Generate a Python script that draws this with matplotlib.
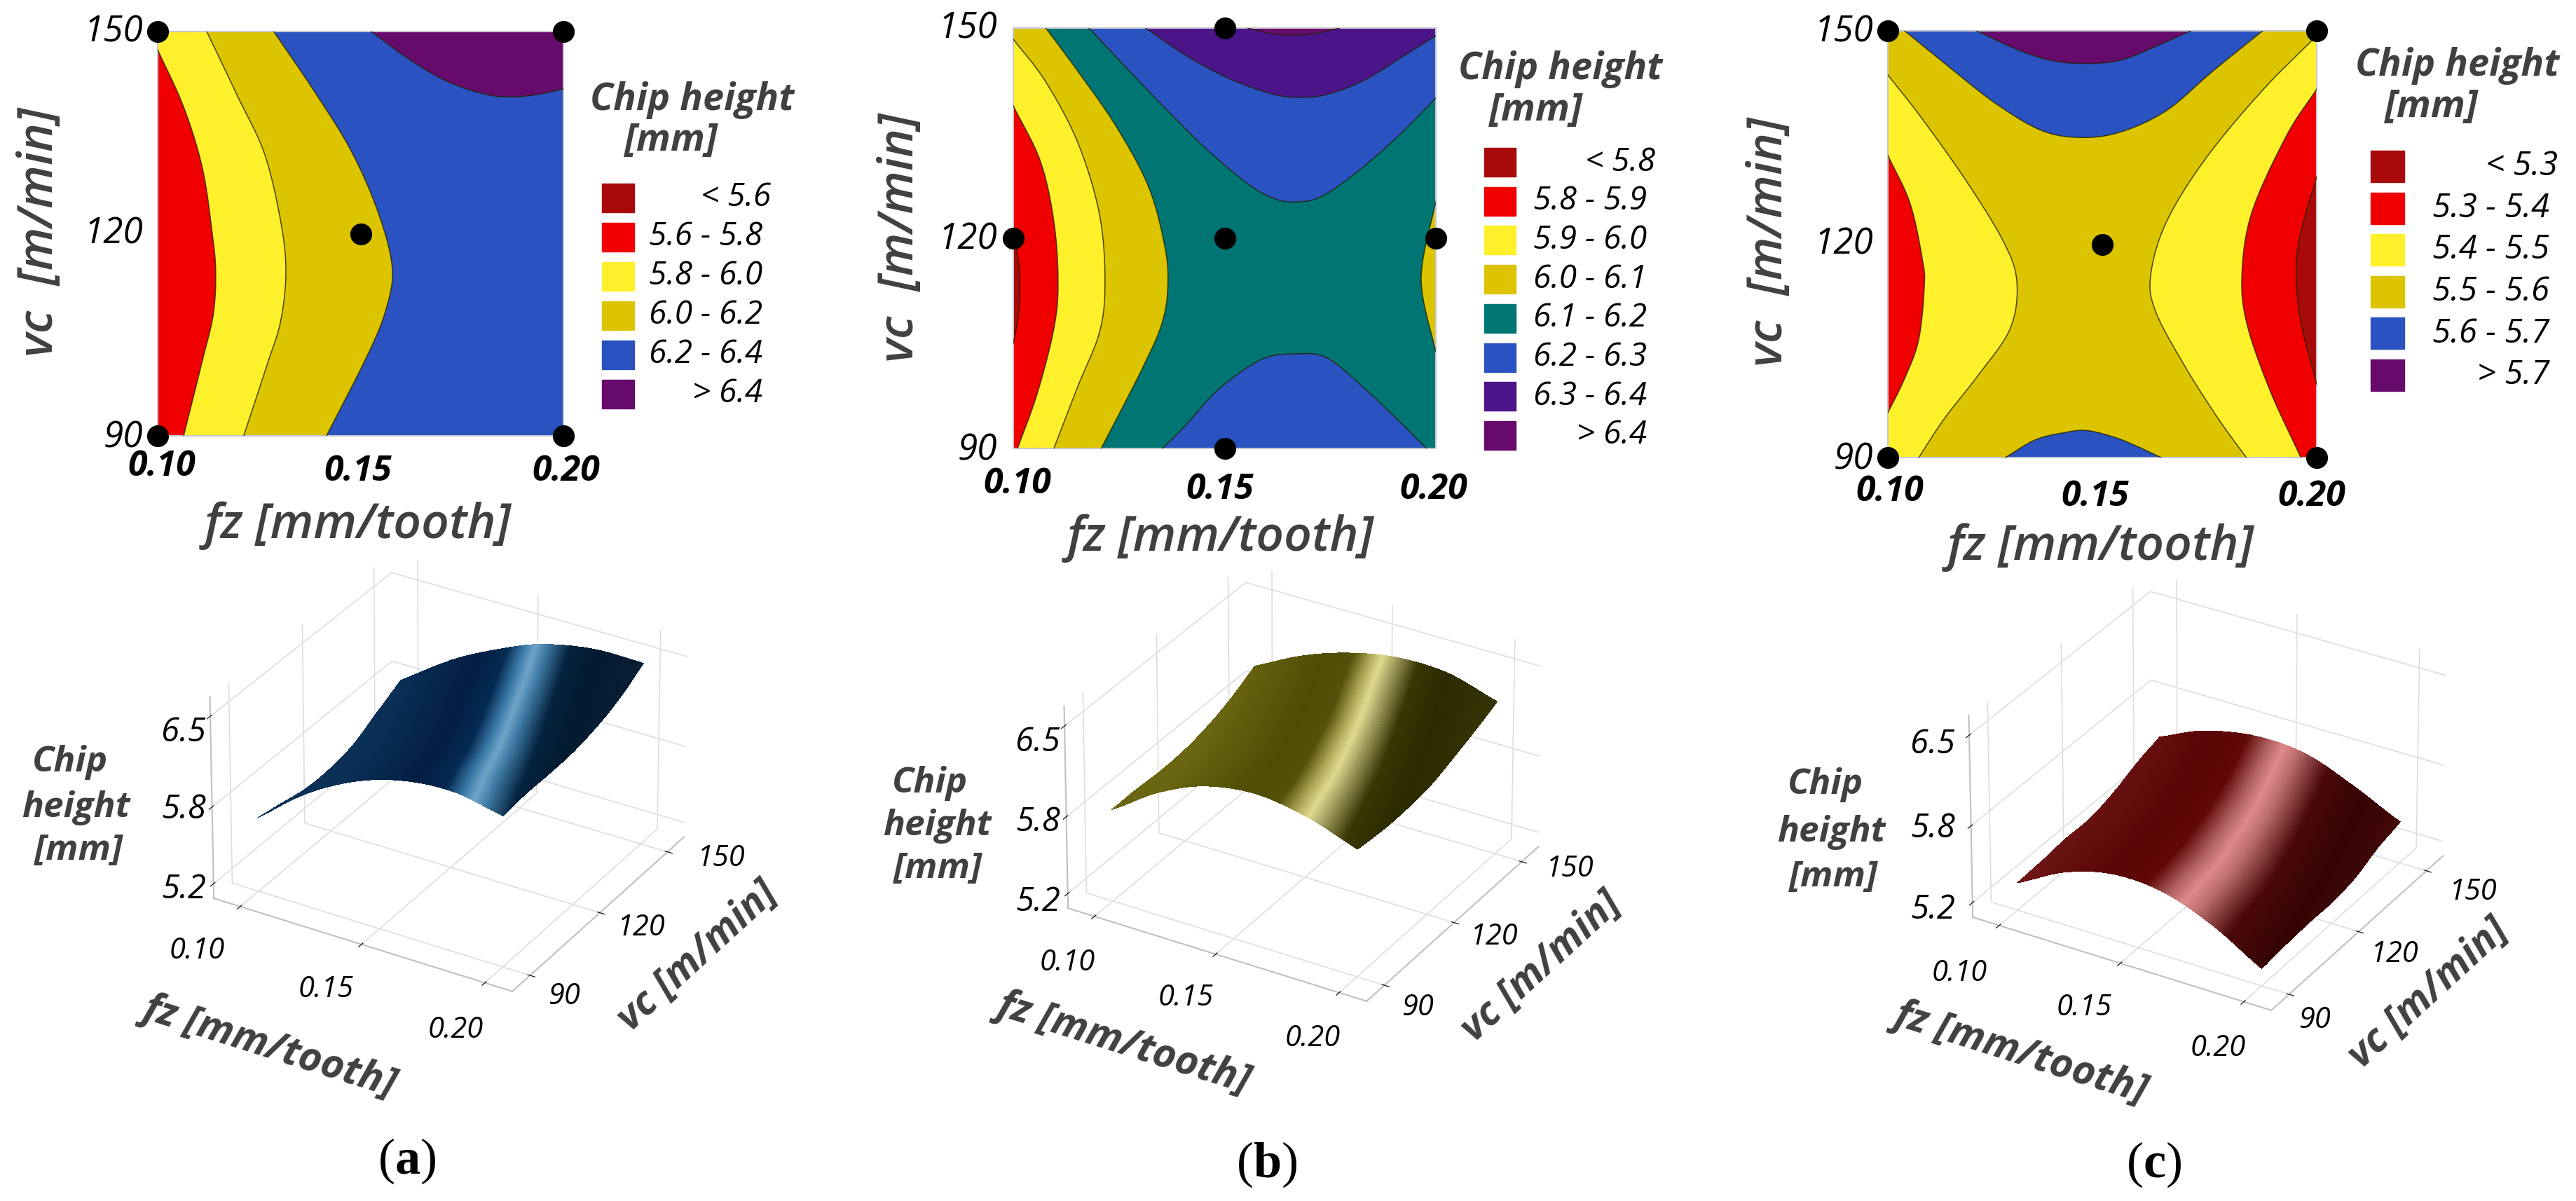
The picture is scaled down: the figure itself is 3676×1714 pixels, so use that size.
import numpy as np
import matplotlib
matplotlib.use('Agg')
import matplotlib.pyplot as plt
import matplotlib.tri as mtri
from matplotlib.colors import LinearSegmentedColormap
from matplotlib.patches import Rectangle

plt.rcParams['mathtext.fontset'] = 'custom'
plt.rcParams['mathtext.rm'] = 'Liberation Serif'
plt.rcParams['mathtext.bf'] = 'Liberation Serif:bold'

W, H = 3676, 1714
FZ_TICKS = [0.10, 0.15, 0.20]
VC_TICKS = [90, 120, 150]
Z_TICKS = [5.2, 5.8, 6.5]
FZ_LABELS = ['0.10', '0.15', '0.20']
VC_LABELS = ['90', '120', '150']
Z_LABELS = ['6.5', '5.8', '5.2']

# contour colours
DRED, RED, YEL, DYEL = '#a80a0a', '#f00000', '#fff02c', '#dcc400'
TEAL, BLUE, INDIGO, PURP = '#007573', '#2a52c0', '#4b1489', '#660b6b'

# (a) contour lines
a_fz_58 = [.1000, .1064, .1110, .1134, .1143, .1137, .1110, .1064]
a_vc_58 = [147.3, 138.8, 129.8, 120.3, 114.4, 108.0, 101.1, 90]
a_fz_60 = [.1121, .1197, .1263, .1303, .1316, .1303, .1270, .1212]
a_vc_60 = [150, 140.4, 131.9, 121.9, 114.4, 107.0, 100.6, 90]
a_fz_62 = [.1286, .1382, .1475, .1542, .1578, .1562, .1515, .1416]
a_vc_62 = [150, 141.5, 132.5, 123.4, 115, 108.6, 101.7, 90]
a_fz_64 = [.1526, .1622, .1714, .1807, .1874, .1940, .2000]
a_vc_64 = [150, 145.8, 142.6, 140.7, 140.3, 140.7, 141.5]
a_pts_fz = [.10, .20, .15, .10, .20]
a_pts_vc = [150, 150, 120, 90, 90]
a_legend = ['< 5.6', '5.6 - 5.8', '5.8 - 6.0', '6.0 - 6.2', '6.2 - 6.4', '> 6.4']
a_legend_col = [DRED, RED, YEL, DYEL, BLUE, PURP]

# (b) contour lines
b_fz_61 = [.1077, .1153, .1242, .1319, .1357, .1366, .1353, .1306, .1208]
b_vc_61 = [150, 143.8, 136.1, 127.5, 119.3, 113.7, 108.1, 101.5, 90]
b_fz_60 = [.1000, .1077, .1153, .1204, .1217, .1204, .1153, .1096]
b_vc_60 = [148.4, 142.3, 133.6, 123.4, 113.7, 106.6, 98.9, 90]
b_fz_59 = [.1000, .1064, .1096, .1106, .1096, .1057, .1010]
b_vc_59 = [138.9, 131, 122.4, 113.7, 107.1, 97.9, 90]
b_fz_58 = [.1000, .1013, .1015, .1010, .1000]
b_vc_58 = [121.3, 116.3, 111.7, 108.1, 105]
b_fz_60r = [.2000, .1969, .1969, .2000]
b_vc_60r = [125.2, 116.8, 111.7, 103.8]
b_fz_62t = [.1179, .1268, .1357, .1459, .1561, .1625, .1676, .1727, .1804, .1906, .2000]
b_vc_62t = [150, 144.3, 138.7, 132.6, 127.5, 125.5, 125.2, 125.9, 129, 134.3, 140]
b_fz_63 = [.1313, .1408, .1510, .1612, .1676, .1740, .1829, .1931, .2000]
b_vc_63 = [150, 146.1, 142.8, 140.6, 140.1, 140.5, 142.5, 146.3, 148.9]
b_fz_64 = [.1555, .1612, .1663, .1714, .1772]
b_vc_64 = [150, 149.2, 149, 149.2, 150]
b_fz_62b = [.1353, .1408, .1485, .1587, .1670, .1740, .1816, .1906, .1978]
b_vc_62b = [90, 93.3, 98.4, 102.7, 103.5, 103, 99.4, 94.3, 90]
b_pts_fz = [.15, .10, .15, .20, .15]
b_pts_vc = [150, 120, 120, 120, 90]
b_legend = ['< 5.8', '5.8 - 5.9', '5.9 - 6.0', '6.0 - 6.1', '6.1 - 6.2', '6.2 - 6.3', '6.3 - 6.4', '> 6.4']
b_legend_col = [DRED, RED, YEL, DYEL, TEAL, BLUE, INDIGO, PURP]

# (c) contour lines
c_fz_55l = [.1000, .1078, .1185, .1271, .1301, .1285, .1211, .1132, .1072]
c_vc_55l = [143.8, 137.8, 128.7, 120.2, 114.6, 108.1, 101.6, 95.5, 90]
c_fz_54l = [.1000, .1052, .1081, .1085, .1072, .1039, .1000]
c_vc_54l = [132.5, 125.7, 117.7, 114.1, 106.6, 101.1, 96.3]
c_fz_55r = [.2000, .1876, .1743, .1650, .1613, .1624, .1690, .1770, .1836]
c_vc_55r = [149.3, 141.8, 132.2, 123.2, 115.7, 110.6, 103.1, 95.5, 90]
c_fz_54r = [.2000, .1930, .1850, .1826, .1836, .1890, .1963]
c_vc_54r = [141.8, 135.3, 124.7, 116.2, 109.1, 99.6, 90]
c_fz_53 = [.2000, .1963, .1952, .1963, .2000]
c_vc_53 = [129.5, 121.7, 116.2, 109.1, 100.3]
c_fz_56t = [.1039, .1145, .1251, .1358, .1451, .1544, .1650, .1757, .1874]
c_vc_56t = [150, 144.8, 139.8, 136, 135, 135.8, 138.8, 144.3, 150]
c_fz_57 = [.1207, .1305, .1384, .1464, .1544, .1624, .1706]
c_vc_57 = [150, 147.3, 145.8, 145.4, 145.9, 147.8, 150]
c_fz_56b = [.1274, .1344, .1411, .1464, .1531, .1584, .1637]
c_vc_56b = [90, 92.5, 93.5, 93.8, 92.8, 91.5, 90]
c_pts_fz = [.10, .20, .15, .10, .20]
c_pts_vc = [150, 150, 120, 90, 90]
c_legend = ['< 5.3', '5.3 - 5.4', '5.4 - 5.5', '5.5 - 5.6', '5.6 - 5.7', '> 5.7']
c_legend_col = [DRED, RED, YEL, DYEL, BLUE, PURP]

# chip height on a grid, for the surfaces (rows vc, columns fz)
grid_fz = [.10, .12, .14, .16, .18, .20]
grid_vc = [90, 100, 110, 120, 130, 140, 150]
a_z = [[5.66, 5.96, 6.17, 6.29, 6.32, 6.25],
       [5.62, 5.92, 6.12, 6.26, 6.31, 6.27],
       [5.58, 5.87, 6.08, 6.22, 6.28, 6.27],
       [5.58, 5.88, 6.09, 6.23, 6.30, 6.28],
       [5.62, 5.93, 6.15, 6.28, 6.34, 6.32],
       [5.72, 6.01, 6.22, 6.34, 6.40, 6.39],
       [5.82, 6.08, 6.28, 6.43, 6.50, 6.50]]
b_z = [[5.80, 6.05, 6.21, 6.26, 6.20, 6.07],
       [5.80, 6.02, 6.15, 6.20, 6.17, 6.05],
       [5.79, 5.99, 6.12, 6.17, 6.14, 6.05],
       [5.80, 5.99, 6.12, 6.18, 6.15, 6.07],
       [5.84, 6.03, 6.14, 6.21, 6.20, 6.13],
       [5.91, 6.10, 6.24, 6.30, 6.29, 6.20],
       [6.01, 6.20, 6.33, 6.40, 6.39, 6.28]]
c_z = [[5.30, 5.50, 5.60, 5.58, 5.44, 5.22],
       [5.31, 5.48, 5.57, 5.55, 5.42, 5.24],
       [5.33, 5.47, 5.55, 5.51, 5.38, 5.25],
       [5.33, 5.46, 5.55, 5.52, 5.38, 5.25],
       [5.38, 5.51, 5.58, 5.54, 5.43, 5.28],
       [5.46, 5.58, 5.64, 5.62, 5.50, 5.36],
       [5.52, 5.68, 5.75, 5.73, 5.59, 5.41]]

# surface shading: light band along fz at vc 90 and 150, its width, and its colours
shade_u = [0, .3, .40, .46, .5, .54, .62, .72, 1]
a_band = (.88, .56, 1.15)
a_shade = ['#0a3056', '#031e42', '#052a52', '#3a7aa8', '#70a4c8', '#3f7ba6', '#04223e', '#031a30', '#0a2238']
b_band = (.80, .53, 1.2)
b_shade = ['#6a6510', '#4f4c06', '#55500a', '#b0a858', '#e0da90', '#aaa565', '#3a3705', '#2c2a00', '#3d3a08']
c_band = (.68, .52, 1.5)
c_shade = ['#701818', '#5a0505', '#600808', '#b06060', '#e08a8a', '#b86a6a', '#4a0808', '#360404', '#5a1010']

LABEL = '#404040'
SANS = ['Open Sans', 'DejaVu Sans']


def put(x, y, s, size=34, color='black', weight='normal', style='italic', ha='center', rot=0, fam=SANS):
    return plt.figtext(x / W, 1 - y / H, s, fontsize=size, color=color, fontweight=weight, fontstyle=style,
                       ha=ha, va='center', rotation=rot, rotation_mode='anchor', family=fam)


def spline(fz, vc, n=16):
    # Catmull-Rom through the points
    p = np.column_stack([fz, vc])
    p = np.vstack([2 * p[0] - p[1], p, 2 * p[-1] - p[-2]])
    out = []
    for i in range(1, len(p) - 2):
        t = np.linspace(0, 1, n, endpoint=False)[:, None]
        out.append(0.5 * (2 * p[i] + (p[i + 1] - p[i - 1]) * t
                          + (2 * p[i - 1] - 5 * p[i] + 4 * p[i + 1] - p[i + 2]) * t ** 2
                          + (3 * p[i] - p[i - 1] - 3 * p[i + 1] + p[i + 2]) * t ** 3))
    out.append(p[-2][None])
    return np.vstack(out)


CLOSE = {'left': [(.1, 90), (.1, 150)], 'right': [(.2, 90), (.2, 150)],
         'topright': [(.2, 150)], 'none': []}


def contour_panel(box, base, layers, pts_fz, pts_vc, ticks):
    x0, y0, x1, y1 = box
    ax = fig.add_axes([x0 / W, 1 - y1 / H, (x1 - x0) / W, (y1 - y0) / H])
    ax.set_xlim(.1, .2)
    ax.set_ylim(90, 150)
    ax.set_facecolor(base)
    for fz, vc, col, side in layers:
        s = spline(fz, vc)
        poly = np.vstack([s] + ([np.array(CLOSE[side])] if CLOSE[side] else []))
        ax.fill(poly[:, 0], poly[:, 1], color=col, lw=0, zorder=2)
        ax.plot(s[:, 0], s[:, 1], color='#222200', lw=1.1, alpha=.8, zorder=3)
    ax.scatter(pts_fz, pts_vc, s=460, color='black', clip_on=False, zorder=5)
    ax.set_xticks(FZ_TICKS)
    ax.set_yticks(VC_TICKS)
    ax.tick_params(length=0, labelbottom=False, labelleft=False)
    for sp in ax.spines.values():
        sp.set_color('#c8c8d0')
        sp.set_linewidth(1.5)
    # tick labels
    (yr, yt), xt, (xl, yl), (xvc, yvc) = ticks
    for s, yy in zip(VC_LABELS, yt):
        put(yr, yy, s, size=37, ha='right')
    for s, (xx, yy) in zip(FZ_LABELS, xt):
        put(xx, yy, s, size=36, weight='bold')
    put(xl, yl, 'fz [mm/tooth]', size=50, color=LABEL, weight='semibold')
    put(xvc, yvc, 'vc  [m/min]', size=50, color=LABEL, weight='semibold', rot=90)


def legend(tx, ty, mx, my, sw_x0, sw_y0, sw_w, sw_h, step, right, labels, cols, size=33):
    put(tx, ty, 'Chip height', size=39, color=LABEL, weight='bold')
    put(mx, my, '[mm]', size=39, color=LABEL, weight='bold')
    for i, (lb, col) in enumerate(zip(labels, cols)):
        yy = sw_y0 + i * step
        fig.patches.append(Rectangle((sw_x0 / W, 1 - (yy + sw_h) / H), sw_w / W, sw_h / H, color=col,
                                     transform=fig.transFigure))
        shift = 12 if lb[0] == '<' else 0
        put(right + shift, yy + sw_h / 2, lb, size=size, ha='right')


def surface_panel(cx, cy, size, z_grid, band, shade_cols):
    ax = fig.add_axes([(cx - size / 2) / W, 1 - (cy + size / 2) / H, size / W, size / H], projection='3d')
    ax.patch.set_alpha(0)
    gx, gy = np.meshgrid(grid_fz, grid_vc)
    tri = mtri.Triangulation(gx.ravel(), gy.ravel())
    interp = mtri.CubicTriInterpolator(tri, np.array(z_grid).ravel(), kind='geom')
    fx, fy = np.meshgrid(np.linspace(.1 + 1e-7, .2 - 1e-7, 150), np.linspace(90 + 1e-4, 150 - 1e-4, 90))
    fz_s = np.ma.filled(interp(fx, fy), np.nan)
    tt = (fx - .1) / .1
    vv = (fy - 90) / 60
    centre = band[0] + (band[1] - band[0]) * vv
    u = np.clip((tt - centre) / band[2] + .5, 0, 1)
    cmap = LinearSegmentedColormap.from_list('band', list(zip(shade_u, shade_cols)), N=512)
    ax.plot_surface(fx, fy, fz_s, facecolors=cmap(u), rstride=1, cstride=1, shade=False,
                    linewidth=0, antialiased=False)
    ax.set_xlim(.089, .211)
    ax.set_ylim(82.5, 157.5)
    ax.set_zlim(5.085, 6.65)
    ax.set_proj_type('persp', focal_length=2.5)
    ax.view_init(elev=30, azim=-59.3)
    ax.set_box_aspect((1, 1, .67))
    ax.set_xticks(FZ_TICKS)
    ax.set_yticks(VC_TICKS)
    ax.set_zticks(Z_TICKS)
    ax.set_xticklabels([])
    ax.set_yticklabels([])
    ax.set_zticklabels([])
    for a in (ax.xaxis, ax.yaxis, ax.zaxis):
        a.set_pane_color((1, 1, 1, 0))
        a.pane.set_edgecolor('#c4c4c4')
        a.pane.set_linewidth(1.5)
        a.line.set_color('#c0c0c0')
        a.line.set_linewidth(1.5)
        a._axinfo['grid'].update(color='#dedede', linewidth=1.2)
        a._axinfo['tick'].update(color='#c0c0c0')
    ax.zaxis.set_ticks_position('lower')


def surface_text(zpos, chip, fzt, vct, fzl, vcl, tag, tagpos):
    for s, (x, y) in zip(Z_LABELS, zpos):
        put(x, y, s, size=34, ha='center')
    for s, (x, y) in zip(['Chip', 'height', '[mm]'], chip):
        put(x, y, s, size=37, color=LABEL, weight='bold')
    for s, (x, y) in zip(FZ_LABELS, fzt):
        put(x, y, s, size=30)
    for s, (x, y) in zip(VC_LABELS, vct):
        put(x, y, s, size=30)
    put(fzl[0], fzl[1], 'fz [mm/tooth]', size=41, color=LABEL, weight='bold', rot=-17.5)
    put(vcl[0], vcl[1], 'vc [m/min]', size=41, color=LABEL, weight='bold', rot=42.5)
    # caption: the letter is bold, the brackets are not
    put(tagpos[0], tagpos[1], '($\\mathbf{%s}$)' % tag, size=52, style='normal', fam=['Liberation Serif'])


fig = plt.figure(figsize=(W / 100, H / 100), dpi=100, facecolor='white')

# (a)
contour_panel((225, 45, 804, 622), BLUE,
              [(a_fz_62, a_vc_62, DYEL, 'left'), (a_fz_60, a_vc_60, YEL, 'left'),
               (a_fz_58, a_vc_58, RED, 'left'), (a_fz_64, a_vc_64, PURP, 'topright')],
              a_pts_fz, a_pts_vc,
              ((204, (625, 334, 46)), [(231, 666), (511, 673), (808, 673)], (511, 750), (58, 331)))
legend(988, 143, 958, 201, 859, 262, 46, 41, 56, 1088, a_legend, a_legend_col)
surface_panel(633, 1106, 750, a_z, a_band, a_shade)
surface_text([(262, 1045), (262, 1155), (262, 1269)],
             [(100, 1088), (108, 1153), (112, 1214)],
             [(281, 1357), (465, 1412), (650, 1470)],
             [(805, 1422), (915, 1324), (1029, 1225)],
             (385, 1493), (996, 1365), 'a', (581, 1657))

# (b)
contour_panel((1446, 40, 2049, 640), TEAL,
              [(b_fz_61, b_vc_61, DYEL, 'left'), (b_fz_60, b_vc_60, YEL, 'left'),
               (b_fz_59, b_vc_59, RED, 'left'), (b_fz_58, b_vc_58, DRED, 'none'),
               (b_fz_60r, b_vc_60r, DYEL, 'none'), (b_fz_62t, b_vc_62t, BLUE, 'topright'),
               (b_fz_63, b_vc_63, INDIGO, 'topright'), (b_fz_64, b_vc_64, PURP, 'none'),
               (b_fz_62b, b_vc_62b, BLUE, 'none')],
              b_pts_fz, b_pts_vc,
              ((1423, (643, 342, 41)), [(1452, 691), (1741, 699), (2046, 699)], (1742, 768), (1285, 339)))
legend(2227, 99, 2192, 158, 2118, 211, 45, 41, 55.7, 2350, b_legend, b_legend_col)
surface_panel(1852, 1120, 750, b_z, b_band, b_shade)
surface_text([(1481, 1059), (1481, 1173), (1481, 1287)],
             [(1327, 1118), (1337, 1179), (1338, 1240)],
             [(1523, 1374), (1692, 1424), (1873, 1482)],
             [(2023, 1438), (2132, 1337), (2240, 1240)],
             (1604, 1488), (2200, 1380), 'b', (1808, 1662))

# (c)
contour_panel((2694, 44, 3306, 653), DYEL,
              [(c_fz_55l, c_vc_55l, YEL, 'left'), (c_fz_54l, c_vc_54l, RED, 'none'),
               (c_fz_55r, c_vc_55r, YEL, 'right'), (c_fz_54r, c_vc_54r, RED, 'right'),
               (c_fz_53, c_vc_53, DRED, 'none'), (c_fz_56t, c_vc_56t, BLUE, 'none'),
               (c_fz_57, c_vc_57, PURP, 'none'), (c_fz_56b, c_vc_56b, BLUE, 'none')],
              c_pts_fz, c_pts_vc,
              ((2673, (656, 349, 46)), [(2697, 702), (2990, 709), (3299, 709)], (2998, 781), (2526, 345)))
legend(3507, 94, 3470, 153, 3383, 215, 48, 45, 59.6, 3638, c_legend, c_legend_col, size=34)
surface_panel(3143, 1133, 750, c_z, c_band, c_shade)
surface_text([(2758, 1062), (2758, 1182), (2758, 1298)],
             [(2605, 1120), (2613, 1188), (2616, 1252)],
             [(2796, 1389), (2974, 1438), (3165, 1496)],
             [(3303, 1456), (3417, 1362), (3529, 1273)],
             (2884, 1502), (3466, 1418), 'c', (3074, 1662))

fig.savefig('out.png', dpi=100)
